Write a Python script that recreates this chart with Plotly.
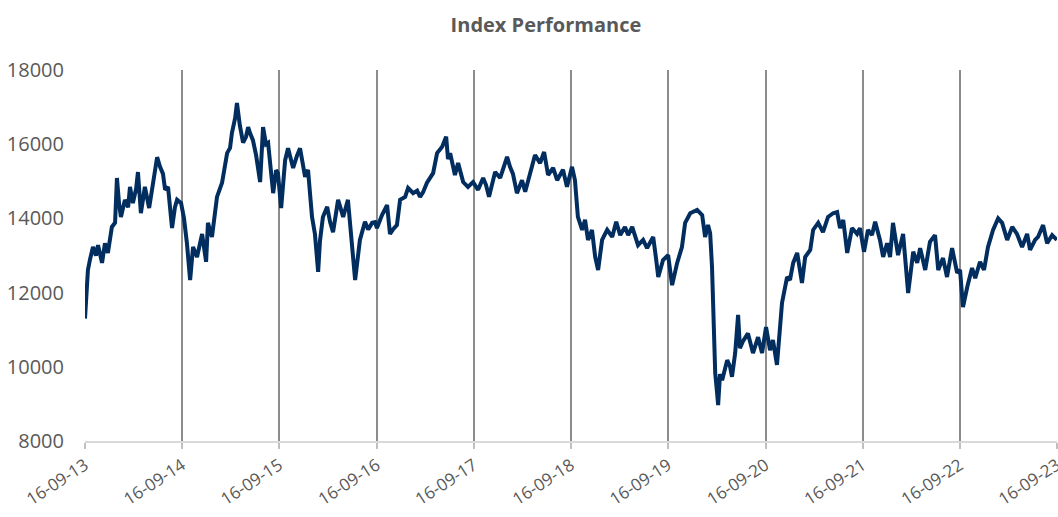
import plotly.graph_objects as go

dates = [
    "2013-09-16","2013-09-20","2013-09-27","2013-10-05","2013-10-16","2013-10-27","2013-11-04","2013-11-19",
    "2013-11-30","2013-12-11","2013-12-26","2014-01-07","2014-01-14","2014-01-22","2014-01-29","2014-02-13",
    "2014-02-25","2014-03-04","2014-03-15","2014-03-27","2014-04-03","2014-04-14","2014-04-29","2014-05-15",
    "2014-05-30","2014-06-14","2014-06-25","2014-07-06","2014-07-14","2014-07-25","2014-08-09","2014-08-20",
    "2014-08-28","2014-09-12",
    "2014-09-23","2014-10-04","2014-10-16","2014-10-27","2014-11-11","2014-11-30","2014-12-15","2014-12-22",
    "2015-01-06","2015-01-25","2015-02-13","2015-02-24","2015-03-04","2015-03-15","2015-03-22","2015-04-03",
    "2015-04-10","2015-04-21","2015-05-03","2015-05-14","2015-05-22","2015-05-29","2015-06-09","2015-06-21",
    "2015-07-06","2015-07-17","2015-07-28","2015-08-05","2015-08-24","2015-09-04","2015-09-11",
    "2015-09-23","2015-10-08","2015-10-19","2015-11-07","2015-11-22","2015-12-03","2015-12-22","2016-01-02",
    "2016-01-17","2016-01-28","2016-02-09","2016-02-16","2016-02-27","2016-03-14","2016-03-25","2016-04-05",
    "2016-04-24","2016-05-13","2016-05-31","2016-06-15","2016-06-27","2016-07-08","2016-07-15","2016-08-03",
    "2016-08-15","2016-08-30","2016-09-10",
    "2016-09-17","2016-10-06","2016-10-25","2016-11-05","2016-11-16","2016-12-01","2016-12-13","2017-01-01",
    "2017-01-12","2017-01-31","2017-02-15","2017-02-26","2017-03-09","2017-03-24","2017-04-16","2017-05-01",
    "2017-05-20","2017-06-04","2017-06-11","2017-06-19","2017-07-07","2017-07-19","2017-08-07","2017-08-25",
    "2017-09-13","2017-10-02","2017-10-21","2017-11-01","2017-11-12","2017-12-05","2017-12-24","2018-01-08",
    "2018-01-19","2018-01-30","2018-02-10","2018-02-25","2018-03-16","2018-03-28","2018-04-15","2018-05-04",
    "2018-05-23","2018-06-07","2018-06-22","2018-07-11","2018-07-26","2018-08-17","2018-09-01",
    "2018-09-13","2018-09-20","2018-10-01","2018-10-09","2018-10-12","2018-10-28","2018-11-08","2018-11-19",
    "2018-12-04","2018-12-16","2018-12-27","2019-01-11","2019-01-30","2019-02-18","2019-03-05","2019-03-20",
    "2019-04-07","2019-04-19","2019-05-04","2019-05-26","2019-06-14","2019-06-29","2019-07-22","2019-08-02",
    "2019-08-10","2019-08-28",
    "2019-09-16","2019-10-01","2019-10-20","2019-11-07","2019-11-19","2019-12-08","2020-01-03","2020-01-22",
    "2020-02-02","2020-02-13","2020-02-21","2020-02-28","2020-03-11","2020-03-18","2020-03-22","2020-03-29",
    "2020-04-06","2020-04-25","2020-05-06","2020-05-13","2020-05-25","2020-06-05","2020-06-12","2020-06-24",
    "2020-07-12","2020-07-31","2020-08-19","2020-09-03",
    "2020-09-18","2020-10-03","2020-10-14","2020-10-29","2020-11-10","2020-11-17","2020-12-06","2020-12-17",
    "2020-12-29","2021-01-13","2021-01-31","2021-02-12","2021-03-03","2021-03-14","2021-04-02","2021-04-20",
    "2021-05-09","2021-05-28","2021-06-12","2021-06-23","2021-07-05","2021-07-20","2021-08-07","2021-08-26",
    "2021-09-06",
    "2021-09-21","2021-10-06","2021-10-21","2021-11-02","2021-11-20","2021-12-02","2021-12-17","2021-12-28",
    "2022-01-08","2022-01-27","2022-02-15","2022-03-06","2022-03-25","2022-04-09","2022-04-20","2022-05-09",
    "2022-05-27","2022-06-15","2022-06-27","2022-07-15","2022-07-30","2022-08-18","2022-09-06",
    "2022-09-17","2022-09-28","2022-10-14","2022-11-01","2022-11-13","2022-12-01","2022-12-16","2022-12-31",
    "2023-01-19","2023-02-07","2023-02-22","2023-03-13","2023-04-01","2023-04-19","2023-05-08","2023-05-27",
    "2023-06-07","2023-06-26","2023-07-07","2023-07-26","2023-08-10","2023-08-29","2023-09-16",
]

index_values = [
    11300,11900,12610,12900,13230,13000,13280,12800,
    13330,13070,13770,13880,15090,14400,14040,14500,
    14300,14850,14410,14800,15250,14140,14850,14280,
    15030,15650,15390,15200,14770,14850,13740,14300,
    14500,14410,
    14000,13330,12340,13230,12960,13580,12830,13880,
    13500,14580,14960,15500,15760,15900,16300,16700,
    17110,16500,16040,16200,16460,16300,16110,15700,
    14980,16460,16000,16040,14680,15300,15220,
    14280,15570,15890,15360,15700,15890,15120,15310,
    14040,13580,12560,13400,14040,14310,13900,13630,
    14500,14040,14500,13330,12340,13000,13420,13910,
    13700,13880,13900,
    13740,14090,14360,13580,13700,13820,14500,14580,
    14820,14680,14750,14580,14700,14960,15220,15760,
    15930,16200,15600,15760,15170,15490,14980,14850,
    14980,14770,15090,14900,14580,15250,15090,15400,
    15660,15390,15200,14680,15030,14720,15170,15710,
    15490,15790,15170,15360,15030,15310,14850,
    15200,15390,15030,14140,14040,13690,13960,13420,
    13690,12960,12610,13420,13690,13500,13910,13550,
    13770,13550,13770,13280,13420,13200,13500,12900,
    12420,12880,
    13010,12200,12800,13230,13880,14140,14230,14090,
    13500,13820,13600,12690,9830,9300,8970,9800,
    9640,10180,10000,9730,10370,11400,10500,10700,
    10900,10370,10800,10370,
    11070,10450,10720,10050,11000,11720,12420,12340,
    12800,13070,12260,12960,13150,13690,13880,13630,
    14040,14140,14170,13740,13960,13070,13740,13580,
    13740,
    13100,13690,13550,13910,13420,12960,13330,12960,
    13880,13010,13580,11990,13100,12800,13200,12610,
    13370,13550,12610,12930,12420,13200,12530,
    12610,11610,12150,12660,12390,12830,12610,13230,
    13690,14000,13880,13420,13770,13580,13230,13580,
    13150,13420,13500,13820,13330,13550,13420,
]

tick_dates = ["2013-09-16","2014-09-16","2015-09-16","2016-09-16","2017-09-16","2018-09-16",
              "2019-09-16","2020-09-16","2021-09-16","2022-09-16","2023-09-16"]
tick_labels = ["16-09-13","16-09-14","16-09-15","16-09-16","16-09-17","16-09-18",
               "16-09-19","16-09-20","16-09-21","16-09-22","16-09-23"]
y_ticks = [8000, 10000, 12000, 14000, 16000, 18000]
y_labels = ["8000", "10000", "12000", "14000", "16000", "18000"]

fig = go.Figure()
fig.add_trace(go.Scatter(
    x=dates, y=index_values, mode="lines",
    line=dict(color="#012d5f", width=4),
    showlegend=False,
))

gray_text = "#595959"
fig.update_layout(
    width=1058, height=517,
    margin=dict(l=85, r=1, t=70, b=76),
    paper_bgcolor="white", plot_bgcolor="white",
    title=dict(text="<b>Index Performance</b>", x=0.516, xanchor="center", y=0.952, yanchor="middle",
               font=dict(family="Open Sans", size=20, color=gray_text)),
    font=dict(family="Open Sans", color=gray_text),
)
fig.update_xaxes(
    type="date", range=["2013-09-16", "2023-09-16 06:00"],
    tickvals=tick_dates, ticktext=tick_labels, tickangle=-33,
    tickfont=dict(size=17, color=gray_text), ticklabeloverflow="allow",
    showgrid=True, gridcolor="#8c8c8c", gridwidth=1.5,
    showline=True, linecolor="#d9d9d9", linewidth=2,
    ticks="outside", ticklen=6, tickcolor="#bfbfbf", tickwidth=1.5,
    zeroline=False, automargin=False,
)
fig.update_yaxes(
    range=[8000, 18000], tickvals=y_ticks, ticktext=y_labels,
    tickfont=dict(size=20, color=gray_text),
    showgrid=False, zeroline=False, showline=False,
    ticks="", ticklabelstandoff=20, automargin=False,
)

fig.write_html(
    "out.html",
    config={"displayModeBar": False},
    post_script="document.body.style.margin='0';document.body.style.overflow='hidden';",
)
